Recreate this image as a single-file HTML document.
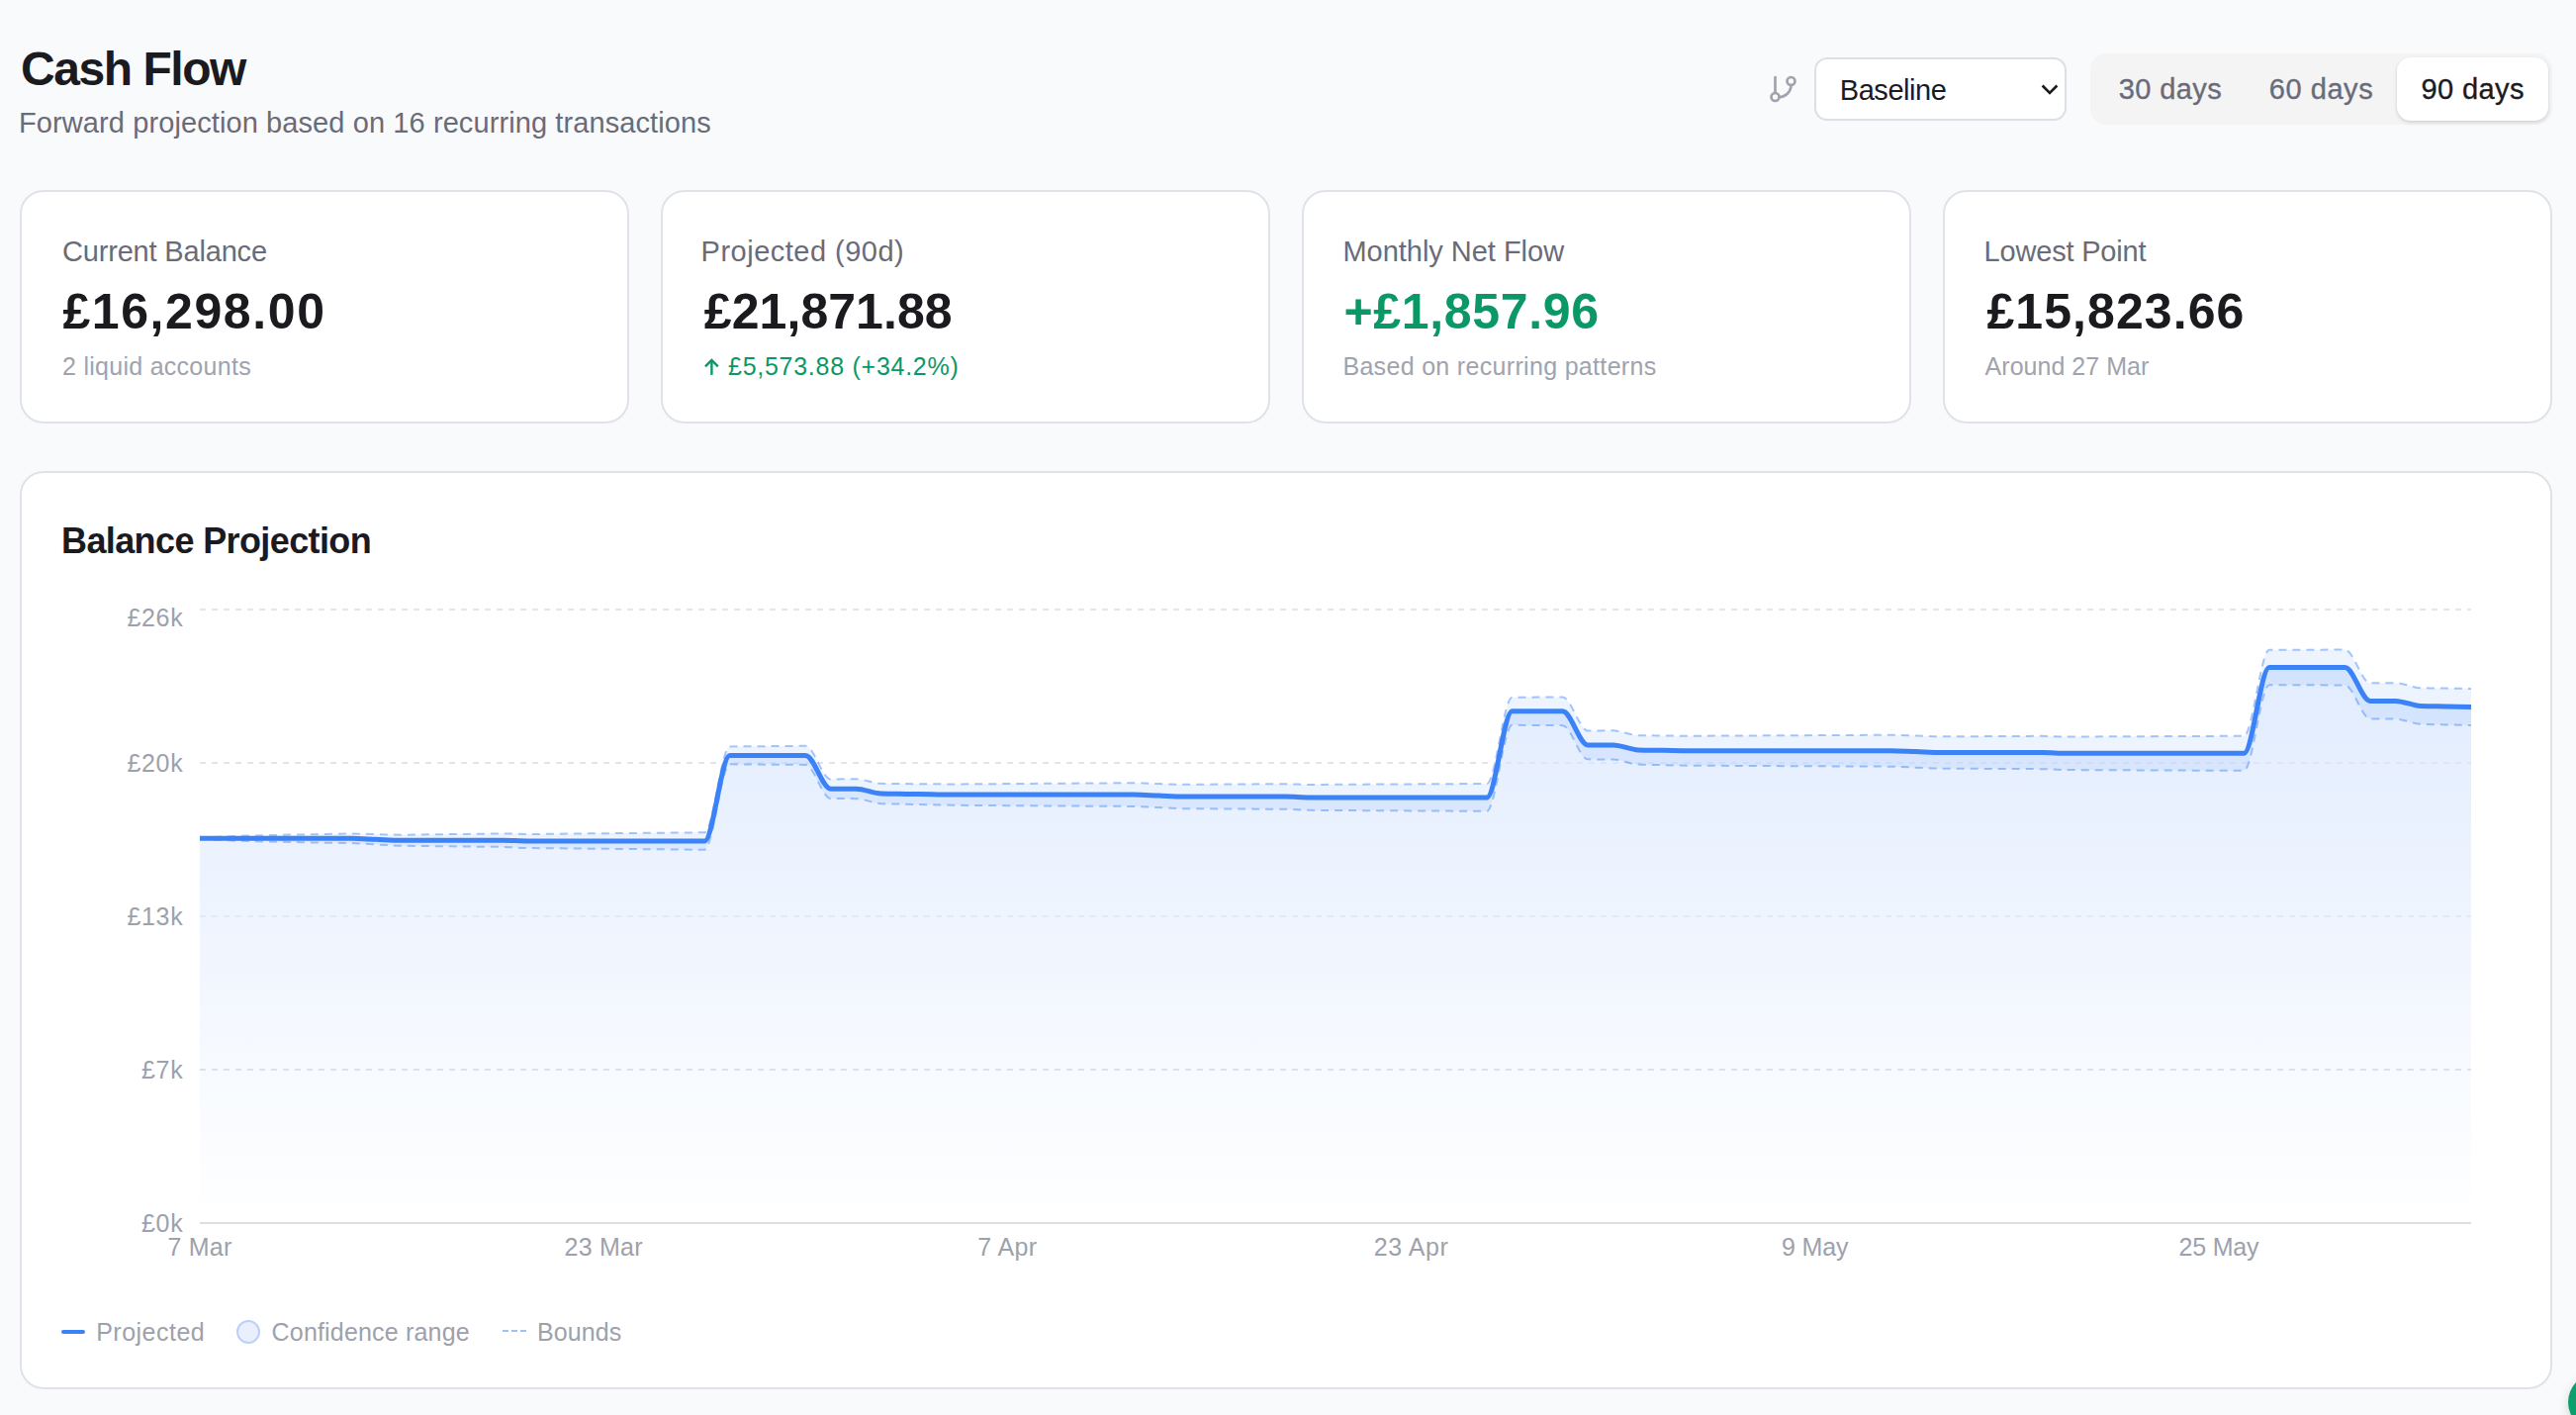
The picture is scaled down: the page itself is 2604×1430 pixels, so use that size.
<!DOCTYPE html>
<html lang="en"><head><meta charset="utf-8"><title>Cash Flow</title>
<style>
*{box-sizing:border-box}
html,body{margin:0;padding:0;background:#f9fafb}
body{width:2604px;height:1430px;overflow:hidden;position:relative;background:#f9fafb;font-family:"Liberation Sans",sans-serif}
.t{position:absolute;white-space:nowrap;line-height:1;font-family:"Liberation Sans",sans-serif}
.card{position:absolute;background:#fff;border:2px solid #e0e2e7;border-radius:24px}
.sel{position:absolute;left:1834px;top:58px;width:255px;height:64px;background:#fff;border:2px solid #dddfe5;border-radius:13px}
.seg{position:absolute;left:2113px;top:54px;width:467px;height:72px;background:#f4f4f5;border-radius:16px}
.pill{position:absolute;left:2423px;top:58px;width:153px;height:64px;background:#fff;border-radius:14px;box-shadow:0 2px 4px rgba(20,20,40,.10),0 1px 3px rgba(20,20,40,.08)}
svg{position:absolute;left:0;top:0;overflow:visible}
.fab{position:absolute;left:2596px;top:1388px;width:58px;height:58px;border-radius:50%;background:#0a9f6c;box-shadow:0 4px 12px rgba(0,0,0,.15)}
</style></head><body>
<div class="card" style="left:20px;top:192px;width:616px;height:236px"></div>
<div class="card" style="left:668px;top:192px;width:616px;height:236px"></div>
<div class="card" style="left:1316px;top:192px;width:616px;height:236px"></div>
<div class="card" style="left:1964px;top:192px;width:616px;height:236px"></div>
<div class="card" style="left:20px;top:476px;width:2560px;height:928px"></div>
<div class="sel"></div>
<div class="seg"></div>
<div class="pill"></div>
<div class="fab"></div>
<svg width="2604" height="1430" viewBox="0 0 2604 1430">
<defs>
<linearGradient id="ga" gradientUnits="userSpaceOnUse" x1="0" y1="674" x2="0" y2="1236">
<stop offset="0" stop-color="#3b82f6" stop-opacity="0.15"/>
<stop offset="1" stop-color="#3b82f6" stop-opacity="0"/>
</linearGradient>
<linearGradient id="gm" gradientUnits="userSpaceOnUse" x1="0" y1="650" x2="0" y2="1236">
<stop offset="0" stop-color="#fff" stop-opacity="0.6"/>
<stop offset="0.55" stop-color="#fff" stop-opacity="0.5"/>
<stop offset="0.72" stop-color="#fff" stop-opacity="0"/>
</linearGradient>
</defs>
<g stroke="#e3e5ea" stroke-width="2" stroke-dasharray="6 6" fill="none"><line x1="202" x2="2498" y1="616" y2="616"/><line x1="202" x2="2498" y1="771" y2="771"/><line x1="202" x2="2498" y1="926" y2="926"/><line x1="202" x2="2498" y1="1081" y2="1081"/></g>
<line x1="202" x2="2498" y1="1236" y2="1236" stroke="#dcdee4" stroke-width="2"/>
<path d="M202,847.3C210.5,846.55,219.01,845.81,227.51,845.35C236.01,844.89,244.52,844.78,253.02,844.54C261.53,844.3,270.03,844.11,278.53,843.92C287.04,843.73,295.54,843.56,304.04,843.4C312.55,843.24,321.05,843.09,329.56,842.94C338.06,842.79,346.56,842.52,355.07,842.52C363.57,842.52,372.07,842.95,380.58,843.14C389.08,843.33,397.59,843.68,406.09,843.68C414.59,843.68,423.1,843.46,431.6,843.35C440.1,843.24,448.61,843.14,457.11,843.03C465.61,842.93,474.12,842.83,482.62,842.73C491.13,842.63,499.63,842.45,508.13,842.45C516.64,842.45,525.14,842.97,533.64,842.97C542.15,842.97,550.65,842.79,559.16,842.7C567.66,842.62,576.16,842.53,584.67,842.45C593.17,842.36,601.67,842.28,610.18,842.2C618.68,842.12,627.19,842.04,635.69,841.96C644.19,841.88,652.7,841.8,661.2,841.73C669.7,841.65,678.21,841.57,686.71,841.5C695.21,841.43,703.72,841.43,712.22,841.28C720.73,841.13,729.23,754.6,737.73,754.46C746.24,754.32,754.74,754.32,763.24,754.25C771.75,754.18,780.25,754.12,788.76,754.05C797.26,753.98,805.76,753.85,814.27,753.85C822.77,753.85,831.27,787.45,839.78,787.45C848.28,787.45,856.79,787.26,865.29,787.26C873.79,787.26,882.3,791.72,890.8,791.87C899.3,792.01,907.81,792.01,916.31,792.08C924.81,792.15,933.32,792.24,941.82,792.3C950.33,792.36,958.83,792.42,967.33,792.42C975.84,792.42,984.34,792.3,992.84,792.24C1001.35,792.18,1009.85,792.13,1018.36,792.07C1026.86,792.01,1035.36,791.95,1043.87,791.9C1052.37,791.84,1060.87,791.79,1069.38,791.73C1077.88,791.67,1086.39,791.62,1094.89,791.56C1103.39,791.51,1111.9,791.45,1120.4,791.4C1128.9,791.35,1137.41,791.24,1145.91,791.24C1154.41,791.24,1162.92,791.82,1171.42,792.08C1179.93,792.34,1188.43,792.82,1196.93,792.82C1205.44,792.82,1213.94,792.72,1222.44,792.67C1230.95,792.62,1239.45,792.56,1247.96,792.51C1256.46,792.46,1264.96,792.41,1273.47,792.36C1281.97,792.31,1290.47,792.21,1298.98,792.21C1307.48,792.21,1315.99,792.97,1324.49,792.97C1332.99,792.97,1341.5,792.87,1350,792.82C1358.5,792.77,1367.01,792.72,1375.51,792.67C1384.01,792.63,1392.52,792.58,1401.02,792.53C1409.53,792.48,1418.03,792.44,1426.53,792.39C1435.04,792.34,1443.54,792.3,1452.04,792.25C1460.55,792.2,1469.05,792.16,1477.56,792.11C1486.06,792.07,1494.56,792.07,1503.07,791.97C1511.57,791.88,1520.07,704.83,1528.58,704.74C1537.08,704.65,1545.59,704.65,1554.09,704.6C1562.59,704.56,1571.1,704.47,1579.6,704.47C1588.1,704.47,1596.61,738.44,1605.11,738.44C1613.61,738.44,1622.12,738.31,1630.62,738.31C1639.13,738.31,1647.63,743,1656.13,743.18C1664.64,743.36,1673.14,743.36,1681.64,743.45C1690.15,743.54,1698.65,743.72,1707.16,743.72C1715.66,743.72,1724.16,743.64,1732.67,743.6C1741.17,743.55,1749.67,743.51,1758.18,743.47C1766.68,743.43,1775.19,743.39,1783.69,743.35C1792.19,743.3,1800.7,743.26,1809.2,743.22C1817.7,743.18,1826.21,743.14,1834.71,743.1C1843.21,743.06,1851.72,743.02,1860.22,742.98C1868.73,742.94,1877.23,742.9,1885.73,742.86C1894.24,742.82,1902.74,742.74,1911.24,742.74C1919.75,742.74,1928.25,743.26,1936.76,743.52C1945.26,743.78,1953.76,744.3,1962.27,744.3C1970.77,744.3,1979.27,744.22,1987.78,744.19C1996.28,744.15,2004.79,744.11,2013.29,744.07C2021.79,744.03,2030.3,743.99,2038.8,743.95C2047.3,743.92,2055.81,743.84,2064.31,743.84C2072.81,743.84,2081.32,744.53,2089.82,744.53C2098.33,744.53,2106.83,744.45,2115.33,744.41C2123.84,744.37,2132.34,744.34,2140.84,744.3C2149.35,744.26,2157.85,744.23,2166.36,744.19C2174.86,744.15,2183.36,744.11,2191.87,744.08C2200.37,744.04,2208.87,744,2217.38,743.97C2225.88,743.93,2234.39,743.9,2242.89,743.86C2251.39,743.82,2259.9,743.82,2268.4,743.75C2276.9,743.68,2285.41,656.91,2293.91,656.84C2302.41,656.77,2310.92,656.77,2319.42,656.73C2327.93,656.7,2336.43,656.66,2344.93,656.63C2353.44,656.59,2361.94,656.52,2370.44,656.52C2378.95,656.52,2387.45,690.32,2395.96,690.32C2404.46,690.32,2412.96,690.21,2421.47,690.21C2429.97,690.21,2438.47,694.94,2446.98,695.21C2455.48,695.47,2463.99,695.47,2472.49,695.6C2480.99,695.74,2489.5,695.87,2498,696L2498,1235L202,1235Z" fill="url(#gm)" stroke="none"/>
<path d="M202,847.3C210.5,846.55,219.01,845.81,227.51,845.35C236.01,844.89,244.52,844.78,253.02,844.54C261.53,844.3,270.03,844.11,278.53,843.92C287.04,843.73,295.54,843.56,304.04,843.4C312.55,843.24,321.05,843.09,329.56,842.94C338.06,842.79,346.56,842.52,355.07,842.52C363.57,842.52,372.07,842.95,380.58,843.14C389.08,843.33,397.59,843.68,406.09,843.68C414.59,843.68,423.1,843.46,431.6,843.35C440.1,843.24,448.61,843.14,457.11,843.03C465.61,842.93,474.12,842.83,482.62,842.73C491.13,842.63,499.63,842.45,508.13,842.45C516.64,842.45,525.14,842.97,533.64,842.97C542.15,842.97,550.65,842.79,559.16,842.7C567.66,842.62,576.16,842.53,584.67,842.45C593.17,842.36,601.67,842.28,610.18,842.2C618.68,842.12,627.19,842.04,635.69,841.96C644.19,841.88,652.7,841.8,661.2,841.73C669.7,841.65,678.21,841.57,686.71,841.5C695.21,841.43,703.72,841.43,712.22,841.28C720.73,841.13,729.23,754.6,737.73,754.46C746.24,754.32,754.74,754.32,763.24,754.25C771.75,754.18,780.25,754.12,788.76,754.05C797.26,753.98,805.76,753.85,814.27,753.85C822.77,753.85,831.27,787.45,839.78,787.45C848.28,787.45,856.79,787.26,865.29,787.26C873.79,787.26,882.3,791.72,890.8,791.87C899.3,792.01,907.81,792.01,916.31,792.08C924.81,792.15,933.32,792.24,941.82,792.3C950.33,792.36,958.83,792.42,967.33,792.42C975.84,792.42,984.34,792.3,992.84,792.24C1001.35,792.18,1009.85,792.13,1018.36,792.07C1026.86,792.01,1035.36,791.95,1043.87,791.9C1052.37,791.84,1060.87,791.79,1069.38,791.73C1077.88,791.67,1086.39,791.62,1094.89,791.56C1103.39,791.51,1111.9,791.45,1120.4,791.4C1128.9,791.35,1137.41,791.24,1145.91,791.24C1154.41,791.24,1162.92,791.82,1171.42,792.08C1179.93,792.34,1188.43,792.82,1196.93,792.82C1205.44,792.82,1213.94,792.72,1222.44,792.67C1230.95,792.62,1239.45,792.56,1247.96,792.51C1256.46,792.46,1264.96,792.41,1273.47,792.36C1281.97,792.31,1290.47,792.21,1298.98,792.21C1307.48,792.21,1315.99,792.97,1324.49,792.97C1332.99,792.97,1341.5,792.87,1350,792.82C1358.5,792.77,1367.01,792.72,1375.51,792.67C1384.01,792.63,1392.52,792.58,1401.02,792.53C1409.53,792.48,1418.03,792.44,1426.53,792.39C1435.04,792.34,1443.54,792.3,1452.04,792.25C1460.55,792.2,1469.05,792.16,1477.56,792.11C1486.06,792.07,1494.56,792.07,1503.07,791.97C1511.57,791.88,1520.07,704.83,1528.58,704.74C1537.08,704.65,1545.59,704.65,1554.09,704.6C1562.59,704.56,1571.1,704.47,1579.6,704.47C1588.1,704.47,1596.61,738.44,1605.11,738.44C1613.61,738.44,1622.12,738.31,1630.62,738.31C1639.13,738.31,1647.63,743,1656.13,743.18C1664.64,743.36,1673.14,743.36,1681.64,743.45C1690.15,743.54,1698.65,743.72,1707.16,743.72C1715.66,743.72,1724.16,743.64,1732.67,743.6C1741.17,743.55,1749.67,743.51,1758.18,743.47C1766.68,743.43,1775.19,743.39,1783.69,743.35C1792.19,743.3,1800.7,743.26,1809.2,743.22C1817.7,743.18,1826.21,743.14,1834.71,743.1C1843.21,743.06,1851.72,743.02,1860.22,742.98C1868.73,742.94,1877.23,742.9,1885.73,742.86C1894.24,742.82,1902.74,742.74,1911.24,742.74C1919.75,742.74,1928.25,743.26,1936.76,743.52C1945.26,743.78,1953.76,744.3,1962.27,744.3C1970.77,744.3,1979.27,744.22,1987.78,744.19C1996.28,744.15,2004.79,744.11,2013.29,744.07C2021.79,744.03,2030.3,743.99,2038.8,743.95C2047.3,743.92,2055.81,743.84,2064.31,743.84C2072.81,743.84,2081.32,744.53,2089.82,744.53C2098.33,744.53,2106.83,744.45,2115.33,744.41C2123.84,744.37,2132.34,744.34,2140.84,744.3C2149.35,744.26,2157.85,744.23,2166.36,744.19C2174.86,744.15,2183.36,744.11,2191.87,744.08C2200.37,744.04,2208.87,744,2217.38,743.97C2225.88,743.93,2234.39,743.9,2242.89,743.86C2251.39,743.82,2259.9,743.82,2268.4,743.75C2276.9,743.68,2285.41,656.91,2293.91,656.84C2302.41,656.77,2310.92,656.77,2319.42,656.73C2327.93,656.7,2336.43,656.66,2344.93,656.63C2353.44,656.59,2361.94,656.52,2370.44,656.52C2378.95,656.52,2387.45,690.32,2395.96,690.32C2404.46,690.32,2412.96,690.21,2421.47,690.21C2429.97,690.21,2438.47,694.94,2446.98,695.21C2455.48,695.47,2463.99,695.47,2472.49,695.6C2480.99,695.74,2489.5,695.87,2498,696L2498,733C2489.5,732.8,2480.99,732.6,2472.49,732.4C2463.99,732.2,2455.48,732.2,2446.98,731.79C2438.47,731.39,2429.97,726.66,2421.47,726.59C2412.96,726.52,2404.46,726.55,2395.96,726.48C2387.45,726.41,2378.95,692.55,2370.44,692.48C2361.94,692.41,2353.44,692.41,2344.93,692.37C2336.43,692.34,2327.93,692.3,2319.42,692.27C2310.92,692.23,2302.41,692.16,2293.91,692.16C2285.41,692.16,2276.9,778.85,2268.4,778.85C2259.9,778.85,2251.39,778.78,2242.89,778.74C2234.39,778.7,2225.88,778.67,2217.38,778.63C2208.87,778.6,2200.37,778.56,2191.87,778.52C2183.36,778.49,2174.86,778.45,2166.36,778.41C2157.85,778.37,2149.35,778.34,2140.84,778.3C2132.34,778.26,2123.84,778.23,2115.33,778.19C2106.83,778.15,2098.33,778.15,2089.82,778.07C2081.32,778,2072.81,777.24,2064.31,777.16C2055.81,777.08,2047.3,777.08,2038.8,777.05C2030.3,777.01,2021.79,776.97,2013.29,776.93C2004.79,776.89,1996.28,776.85,1987.78,776.81C1979.27,776.78,1970.77,776.78,1962.27,776.7C1953.76,776.62,1945.26,776.02,1936.76,775.68C1928.25,775.34,1919.75,774.74,1911.24,774.66C1902.74,774.58,1894.24,774.58,1885.73,774.54C1877.23,774.5,1868.73,774.46,1860.22,774.42C1851.72,774.38,1843.21,774.34,1834.71,774.3C1826.21,774.26,1817.7,774.22,1809.2,774.18C1800.7,774.14,1792.19,774.1,1783.69,774.05C1775.19,774.01,1766.68,773.97,1758.18,773.93C1749.67,773.89,1741.17,773.85,1732.67,773.8C1724.16,773.76,1715.66,773.76,1707.16,773.68C1698.65,773.59,1690.15,773.33,1681.64,773.15C1673.14,772.97,1664.64,772.97,1656.13,772.62C1647.63,772.27,1639.13,767.58,1630.62,767.49C1622.12,767.41,1613.61,767.45,1605.11,767.36C1596.61,767.27,1588.1,733.22,1579.6,733.13C1571.1,733.04,1562.59,733.04,1554.09,733C1545.59,732.95,1537.08,732.86,1528.58,732.86C1520.07,732.86,1511.57,819.83,1503.07,819.83C1494.56,819.83,1486.06,819.73,1477.56,819.69C1469.05,819.64,1460.55,819.6,1452.04,819.55C1443.54,819.5,1435.04,819.46,1426.53,819.41C1418.03,819.36,1409.53,819.32,1401.02,819.27C1392.52,819.22,1384.01,819.17,1375.51,819.13C1367.01,819.08,1358.5,819.03,1350,818.98C1341.5,818.93,1332.99,818.93,1324.49,818.83C1315.99,818.74,1307.48,817.89,1298.98,817.79C1290.47,817.69,1281.97,817.69,1273.47,817.64C1264.96,817.59,1256.46,817.54,1247.96,817.49C1239.45,817.44,1230.95,817.38,1222.44,817.33C1213.94,817.28,1205.44,817.28,1196.93,817.18C1188.43,817.07,1179.93,816.49,1171.42,816.12C1162.92,815.75,1154.41,815.07,1145.91,814.96C1137.41,814.85,1128.9,814.85,1120.4,814.8C1111.9,814.75,1103.39,814.69,1094.89,814.64C1086.39,814.58,1077.88,814.53,1069.38,814.47C1060.87,814.41,1052.37,814.36,1043.87,814.3C1035.36,814.25,1026.86,814.19,1018.36,814.13C1009.85,814.07,1001.35,814.02,992.84,813.96C984.34,813.9,975.84,813.89,967.33,813.78C958.83,813.67,950.33,813.48,941.82,813.3C933.32,813.12,924.81,812.91,916.31,812.72C907.81,812.52,899.3,812.52,890.8,812.13C882.3,811.74,873.79,807.27,865.29,807.14C856.79,807.01,848.28,807.08,839.78,806.95C831.27,806.82,822.77,773.09,814.27,772.95C805.76,772.82,797.26,772.82,788.76,772.75C780.25,772.68,771.75,772.62,763.24,772.55C754.74,772.48,746.24,772.34,737.73,772.34C729.23,772.34,720.73,858.72,712.22,858.72C703.72,858.72,695.21,858.57,686.71,858.5C678.21,858.43,669.7,858.35,661.2,858.27C652.7,858.2,644.19,858.12,635.69,858.04C627.19,857.96,618.68,857.88,610.18,857.8C601.67,857.72,593.17,857.64,584.67,857.55C576.16,857.47,567.66,857.38,559.16,857.3C550.65,857.21,542.15,857.21,533.64,857.03C525.14,856.85,516.64,856.15,508.13,855.95C499.63,855.76,491.13,855.77,482.62,855.67C474.12,855.57,465.61,855.47,457.11,855.37C448.61,855.26,440.1,855.16,431.6,855.05C423.1,854.94,414.59,854.94,406.09,854.72C397.59,854.49,389.08,853.9,380.58,853.46C372.07,853.02,363.57,852.35,355.07,852.08C346.56,851.8,338.06,851.81,329.56,851.66C321.05,851.51,312.55,851.36,304.04,851.2C295.54,851.04,287.04,850.87,278.53,850.68C270.03,850.49,261.53,850.3,253.02,850.06C244.52,849.82,236.01,849.71,227.51,849.25C219.01,848.79,210.5,848.05,202,847.3Z" fill="#3b82f6" fill-opacity="0.09" stroke="none"/>
<path d="M202,847.3C210.5,847.3,219.01,847.3,227.51,847.3C236.01,847.3,244.52,847.3,253.02,847.3C261.53,847.3,270.03,847.3,278.53,847.3C287.04,847.3,295.54,847.3,304.04,847.3C312.55,847.3,321.05,847.3,329.56,847.3C338.06,847.3,346.56,847.3,355.07,847.3C363.57,847.3,372.07,847.98,380.58,848.3C389.08,848.62,397.59,849.2,406.09,849.2C414.59,849.2,423.1,849.2,431.6,849.2C440.1,849.2,448.61,849.2,457.11,849.2C465.61,849.2,474.12,849.2,482.62,849.2C491.13,849.2,499.63,849.2,508.13,849.2C516.64,849.2,525.14,850,533.64,850C542.15,850,550.65,850,559.16,850C567.66,850,576.16,850,584.67,850C593.17,850,601.67,850,610.18,850C618.68,850,627.19,850,635.69,850C644.19,850,652.7,850,661.2,850C669.7,850,678.21,850,686.71,850C695.21,850,703.72,850,712.22,850C720.73,850,729.23,763.4,737.73,763.4C746.24,763.4,754.74,763.4,763.24,763.4C771.75,763.4,780.25,763.4,788.76,763.4C797.26,763.4,805.76,763.4,814.27,763.4C822.77,763.4,831.27,797.2,839.78,797.2C848.28,797.2,856.79,797.2,865.29,797.2C873.79,797.2,882.3,801.73,890.8,802C899.3,802.27,907.81,802.27,916.31,802.4C924.81,802.53,933.32,802.68,941.82,802.8C950.33,802.92,958.83,803.1,967.33,803.1C975.84,803.1,984.34,803.1,992.84,803.1C1001.35,803.1,1009.85,803.1,1018.36,803.1C1026.86,803.1,1035.36,803.1,1043.87,803.1C1052.37,803.1,1060.87,803.1,1069.38,803.1C1077.88,803.1,1086.39,803.1,1094.89,803.1C1103.39,803.1,1111.9,803.1,1120.4,803.1C1128.9,803.1,1137.41,803.1,1145.91,803.1C1154.41,803.1,1162.92,803.78,1171.42,804.1C1179.93,804.42,1188.43,805,1196.93,805C1205.44,805,1213.94,805,1222.44,805C1230.95,805,1239.45,805,1247.96,805C1256.46,805,1264.96,805,1273.47,805C1281.97,805,1290.47,805,1298.98,805C1307.48,805,1315.99,805.9,1324.49,805.9C1332.99,805.9,1341.5,805.9,1350,805.9C1358.5,805.9,1367.01,805.9,1375.51,805.9C1384.01,805.9,1392.52,805.9,1401.02,805.9C1409.53,805.9,1418.03,805.9,1426.53,805.9C1435.04,805.9,1443.54,805.9,1452.04,805.9C1460.55,805.9,1469.05,805.9,1477.56,805.9C1486.06,805.9,1494.56,805.9,1503.07,805.9C1511.57,805.9,1520.07,718.8,1528.58,718.8C1537.08,718.8,1545.59,718.8,1554.09,718.8C1562.59,718.8,1571.1,718.8,1579.6,718.8C1588.1,718.8,1596.61,752.9,1605.11,752.9C1613.61,752.9,1622.12,752.9,1630.62,752.9C1639.13,752.9,1647.63,757.63,1656.13,757.9C1664.64,758.17,1673.14,758.17,1681.64,758.3C1690.15,758.43,1698.65,758.7,1707.16,758.7C1715.66,758.7,1724.16,758.7,1732.67,758.7C1741.17,758.7,1749.67,758.7,1758.18,758.7C1766.68,758.7,1775.19,758.7,1783.69,758.7C1792.19,758.7,1800.7,758.7,1809.2,758.7C1817.7,758.7,1826.21,758.7,1834.71,758.7C1843.21,758.7,1851.72,758.7,1860.22,758.7C1868.73,758.7,1877.23,758.7,1885.73,758.7C1894.24,758.7,1902.74,758.7,1911.24,758.7C1919.75,758.7,1928.25,759.3,1936.76,759.6C1945.26,759.9,1953.76,760.5,1962.27,760.5C1970.77,760.5,1979.27,760.5,1987.78,760.5C1996.28,760.5,2004.79,760.5,2013.29,760.5C2021.79,760.5,2030.3,760.5,2038.8,760.5C2047.3,760.5,2055.81,760.5,2064.31,760.5C2072.81,760.5,2081.32,761.3,2089.82,761.3C2098.33,761.3,2106.83,761.3,2115.33,761.3C2123.84,761.3,2132.34,761.3,2140.84,761.3C2149.35,761.3,2157.85,761.3,2166.36,761.3C2174.86,761.3,2183.36,761.3,2191.87,761.3C2200.37,761.3,2208.87,761.3,2217.38,761.3C2225.88,761.3,2234.39,761.3,2242.89,761.3C2251.39,761.3,2259.9,761.3,2268.4,761.3C2276.9,761.3,2285.41,674.5,2293.91,674.5C2302.41,674.5,2310.92,674.5,2319.42,674.5C2327.93,674.5,2336.43,674.5,2344.93,674.5C2353.44,674.5,2361.94,674.5,2370.44,674.5C2378.95,674.5,2387.45,708.4,2395.96,708.4C2404.46,708.4,2412.96,708.4,2421.47,708.4C2429.97,708.4,2438.47,713.17,2446.98,713.5C2455.48,713.83,2463.99,713.83,2472.49,714C2480.99,714.17,2489.5,714.33,2498,714.5L2498,1236L202,1236Z" fill="url(#ga)" stroke="none"/>
<path d="M202,847.3C210.5,846.55,219.01,845.81,227.51,845.35C236.01,844.89,244.52,844.78,253.02,844.54C261.53,844.3,270.03,844.11,278.53,843.92C287.04,843.73,295.54,843.56,304.04,843.4C312.55,843.24,321.05,843.09,329.56,842.94C338.06,842.79,346.56,842.52,355.07,842.52C363.57,842.52,372.07,842.95,380.58,843.14C389.08,843.33,397.59,843.68,406.09,843.68C414.59,843.68,423.1,843.46,431.6,843.35C440.1,843.24,448.61,843.14,457.11,843.03C465.61,842.93,474.12,842.83,482.62,842.73C491.13,842.63,499.63,842.45,508.13,842.45C516.64,842.45,525.14,842.97,533.64,842.97C542.15,842.97,550.65,842.79,559.16,842.7C567.66,842.62,576.16,842.53,584.67,842.45C593.17,842.36,601.67,842.28,610.18,842.2C618.68,842.12,627.19,842.04,635.69,841.96C644.19,841.88,652.7,841.8,661.2,841.73C669.7,841.65,678.21,841.57,686.71,841.5C695.21,841.43,703.72,841.43,712.22,841.28C720.73,841.13,729.23,754.6,737.73,754.46C746.24,754.32,754.74,754.32,763.24,754.25C771.75,754.18,780.25,754.12,788.76,754.05C797.26,753.98,805.76,753.85,814.27,753.85C822.77,753.85,831.27,787.45,839.78,787.45C848.28,787.45,856.79,787.26,865.29,787.26C873.79,787.26,882.3,791.72,890.8,791.87C899.3,792.01,907.81,792.01,916.31,792.08C924.81,792.15,933.32,792.24,941.82,792.3C950.33,792.36,958.83,792.42,967.33,792.42C975.84,792.42,984.34,792.3,992.84,792.24C1001.35,792.18,1009.85,792.13,1018.36,792.07C1026.86,792.01,1035.36,791.95,1043.87,791.9C1052.37,791.84,1060.87,791.79,1069.38,791.73C1077.88,791.67,1086.39,791.62,1094.89,791.56C1103.39,791.51,1111.9,791.45,1120.4,791.4C1128.9,791.35,1137.41,791.24,1145.91,791.24C1154.41,791.24,1162.92,791.82,1171.42,792.08C1179.93,792.34,1188.43,792.82,1196.93,792.82C1205.44,792.82,1213.94,792.72,1222.44,792.67C1230.95,792.62,1239.45,792.56,1247.96,792.51C1256.46,792.46,1264.96,792.41,1273.47,792.36C1281.97,792.31,1290.47,792.21,1298.98,792.21C1307.48,792.21,1315.99,792.97,1324.49,792.97C1332.99,792.97,1341.5,792.87,1350,792.82C1358.5,792.77,1367.01,792.72,1375.51,792.67C1384.01,792.63,1392.52,792.58,1401.02,792.53C1409.53,792.48,1418.03,792.44,1426.53,792.39C1435.04,792.34,1443.54,792.3,1452.04,792.25C1460.55,792.2,1469.05,792.16,1477.56,792.11C1486.06,792.07,1494.56,792.07,1503.07,791.97C1511.57,791.88,1520.07,704.83,1528.58,704.74C1537.08,704.65,1545.59,704.65,1554.09,704.6C1562.59,704.56,1571.1,704.47,1579.6,704.47C1588.1,704.47,1596.61,738.44,1605.11,738.44C1613.61,738.44,1622.12,738.31,1630.62,738.31C1639.13,738.31,1647.63,743,1656.13,743.18C1664.64,743.36,1673.14,743.36,1681.64,743.45C1690.15,743.54,1698.65,743.72,1707.16,743.72C1715.66,743.72,1724.16,743.64,1732.67,743.6C1741.17,743.55,1749.67,743.51,1758.18,743.47C1766.68,743.43,1775.19,743.39,1783.69,743.35C1792.19,743.3,1800.7,743.26,1809.2,743.22C1817.7,743.18,1826.21,743.14,1834.71,743.1C1843.21,743.06,1851.72,743.02,1860.22,742.98C1868.73,742.94,1877.23,742.9,1885.73,742.86C1894.24,742.82,1902.74,742.74,1911.24,742.74C1919.75,742.74,1928.25,743.26,1936.76,743.52C1945.26,743.78,1953.76,744.3,1962.27,744.3C1970.77,744.3,1979.27,744.22,1987.78,744.19C1996.28,744.15,2004.79,744.11,2013.29,744.07C2021.79,744.03,2030.3,743.99,2038.8,743.95C2047.3,743.92,2055.81,743.84,2064.31,743.84C2072.81,743.84,2081.32,744.53,2089.82,744.53C2098.33,744.53,2106.83,744.45,2115.33,744.41C2123.84,744.37,2132.34,744.34,2140.84,744.3C2149.35,744.26,2157.85,744.23,2166.36,744.19C2174.86,744.15,2183.36,744.11,2191.87,744.08C2200.37,744.04,2208.87,744,2217.38,743.97C2225.88,743.93,2234.39,743.9,2242.89,743.86C2251.39,743.82,2259.9,743.82,2268.4,743.75C2276.9,743.68,2285.41,656.91,2293.91,656.84C2302.41,656.77,2310.92,656.77,2319.42,656.73C2327.93,656.7,2336.43,656.66,2344.93,656.63C2353.44,656.59,2361.94,656.52,2370.44,656.52C2378.95,656.52,2387.45,690.32,2395.96,690.32C2404.46,690.32,2412.96,690.21,2421.47,690.21C2429.97,690.21,2438.47,694.94,2446.98,695.21C2455.48,695.47,2463.99,695.47,2472.49,695.6C2480.99,695.74,2489.5,695.87,2498,696" fill="none" stroke="#3b82f6" stroke-opacity="0.45" stroke-width="2" stroke-dasharray="8 6"/>
<path d="M202,847.3C210.5,848.05,219.01,848.79,227.51,849.25C236.01,849.71,244.52,849.82,253.02,850.06C261.53,850.3,270.03,850.49,278.53,850.68C287.04,850.87,295.54,851.04,304.04,851.2C312.55,851.36,321.05,851.51,329.56,851.66C338.06,851.81,346.56,851.8,355.07,852.08C363.57,852.35,372.07,853.02,380.58,853.46C389.08,853.9,397.59,854.49,406.09,854.72C414.59,854.94,423.1,854.94,431.6,855.05C440.1,855.16,448.61,855.26,457.11,855.37C465.61,855.47,474.12,855.57,482.62,855.67C491.13,855.77,499.63,855.76,508.13,855.95C516.64,856.15,525.14,856.85,533.64,857.03C542.15,857.21,550.65,857.21,559.16,857.3C567.66,857.38,576.16,857.47,584.67,857.55C593.17,857.64,601.67,857.72,610.18,857.8C618.68,857.88,627.19,857.96,635.69,858.04C644.19,858.12,652.7,858.2,661.2,858.27C669.7,858.35,678.21,858.43,686.71,858.5C695.21,858.57,703.72,858.72,712.22,858.72C720.73,858.72,729.23,772.34,737.73,772.34C746.24,772.34,754.74,772.48,763.24,772.55C771.75,772.62,780.25,772.68,788.76,772.75C797.26,772.82,805.76,772.82,814.27,772.95C822.77,773.09,831.27,806.82,839.78,806.95C848.28,807.08,856.79,807.01,865.29,807.14C873.79,807.27,882.3,811.74,890.8,812.13C899.3,812.52,907.81,812.52,916.31,812.72C924.81,812.91,933.32,813.12,941.82,813.3C950.33,813.48,958.83,813.67,967.33,813.78C975.84,813.89,984.34,813.9,992.84,813.96C1001.35,814.02,1009.85,814.07,1018.36,814.13C1026.86,814.19,1035.36,814.25,1043.87,814.3C1052.37,814.36,1060.87,814.41,1069.38,814.47C1077.88,814.53,1086.39,814.58,1094.89,814.64C1103.39,814.69,1111.9,814.75,1120.4,814.8C1128.9,814.85,1137.41,814.85,1145.91,814.96C1154.41,815.07,1162.92,815.75,1171.42,816.12C1179.93,816.49,1188.43,817.07,1196.93,817.18C1205.44,817.28,1213.94,817.28,1222.44,817.33C1230.95,817.38,1239.45,817.44,1247.96,817.49C1256.46,817.54,1264.96,817.59,1273.47,817.64C1281.97,817.69,1290.47,817.69,1298.98,817.79C1307.48,817.89,1315.99,818.74,1324.49,818.83C1332.99,818.93,1341.5,818.93,1350,818.98C1358.5,819.03,1367.01,819.08,1375.51,819.13C1384.01,819.17,1392.52,819.22,1401.02,819.27C1409.53,819.32,1418.03,819.36,1426.53,819.41C1435.04,819.46,1443.54,819.5,1452.04,819.55C1460.55,819.6,1469.05,819.64,1477.56,819.69C1486.06,819.73,1494.56,819.83,1503.07,819.83C1511.57,819.83,1520.07,732.86,1528.58,732.86C1537.08,732.86,1545.59,732.95,1554.09,733C1562.59,733.04,1571.1,733.04,1579.6,733.13C1588.1,733.22,1596.61,767.27,1605.11,767.36C1613.61,767.45,1622.12,767.41,1630.62,767.49C1639.13,767.58,1647.63,772.27,1656.13,772.62C1664.64,772.97,1673.14,772.97,1681.64,773.15C1690.15,773.33,1698.65,773.59,1707.16,773.68C1715.66,773.76,1724.16,773.76,1732.67,773.8C1741.17,773.85,1749.67,773.89,1758.18,773.93C1766.68,773.97,1775.19,774.01,1783.69,774.05C1792.19,774.1,1800.7,774.14,1809.2,774.18C1817.7,774.22,1826.21,774.26,1834.71,774.3C1843.21,774.34,1851.72,774.38,1860.22,774.42C1868.73,774.46,1877.23,774.5,1885.73,774.54C1894.24,774.58,1902.74,774.58,1911.24,774.66C1919.75,774.74,1928.25,775.34,1936.76,775.68C1945.26,776.02,1953.76,776.62,1962.27,776.7C1970.77,776.78,1979.27,776.78,1987.78,776.81C1996.28,776.85,2004.79,776.89,2013.29,776.93C2021.79,776.97,2030.3,777.01,2038.8,777.05C2047.3,777.08,2055.81,777.08,2064.31,777.16C2072.81,777.24,2081.32,778,2089.82,778.07C2098.33,778.15,2106.83,778.15,2115.33,778.19C2123.84,778.23,2132.34,778.26,2140.84,778.3C2149.35,778.34,2157.85,778.37,2166.36,778.41C2174.86,778.45,2183.36,778.49,2191.87,778.52C2200.37,778.56,2208.87,778.6,2217.38,778.63C2225.88,778.67,2234.39,778.7,2242.89,778.74C2251.39,778.78,2259.9,778.85,2268.4,778.85C2276.9,778.85,2285.41,692.16,2293.91,692.16C2302.41,692.16,2310.92,692.23,2319.42,692.27C2327.93,692.3,2336.43,692.34,2344.93,692.37C2353.44,692.41,2361.94,692.41,2370.44,692.48C2378.95,692.55,2387.45,726.41,2395.96,726.48C2404.46,726.55,2412.96,726.52,2421.47,726.59C2429.97,726.66,2438.47,731.39,2446.98,731.79C2455.48,732.2,2463.99,732.2,2472.49,732.4C2480.99,732.6,2489.5,732.8,2498,733" fill="none" stroke="#3b82f6" stroke-opacity="0.45" stroke-width="2" stroke-dasharray="8 6"/>
<path d="M202,847.3C210.5,847.3,219.01,847.3,227.51,847.3C236.01,847.3,244.52,847.3,253.02,847.3C261.53,847.3,270.03,847.3,278.53,847.3C287.04,847.3,295.54,847.3,304.04,847.3C312.55,847.3,321.05,847.3,329.56,847.3C338.06,847.3,346.56,847.3,355.07,847.3C363.57,847.3,372.07,847.98,380.58,848.3C389.08,848.62,397.59,849.2,406.09,849.2C414.59,849.2,423.1,849.2,431.6,849.2C440.1,849.2,448.61,849.2,457.11,849.2C465.61,849.2,474.12,849.2,482.62,849.2C491.13,849.2,499.63,849.2,508.13,849.2C516.64,849.2,525.14,850,533.64,850C542.15,850,550.65,850,559.16,850C567.66,850,576.16,850,584.67,850C593.17,850,601.67,850,610.18,850C618.68,850,627.19,850,635.69,850C644.19,850,652.7,850,661.2,850C669.7,850,678.21,850,686.71,850C695.21,850,703.72,850,712.22,850C720.73,850,729.23,763.4,737.73,763.4C746.24,763.4,754.74,763.4,763.24,763.4C771.75,763.4,780.25,763.4,788.76,763.4C797.26,763.4,805.76,763.4,814.27,763.4C822.77,763.4,831.27,797.2,839.78,797.2C848.28,797.2,856.79,797.2,865.29,797.2C873.79,797.2,882.3,801.73,890.8,802C899.3,802.27,907.81,802.27,916.31,802.4C924.81,802.53,933.32,802.68,941.82,802.8C950.33,802.92,958.83,803.1,967.33,803.1C975.84,803.1,984.34,803.1,992.84,803.1C1001.35,803.1,1009.85,803.1,1018.36,803.1C1026.86,803.1,1035.36,803.1,1043.87,803.1C1052.37,803.1,1060.87,803.1,1069.38,803.1C1077.88,803.1,1086.39,803.1,1094.89,803.1C1103.39,803.1,1111.9,803.1,1120.4,803.1C1128.9,803.1,1137.41,803.1,1145.91,803.1C1154.41,803.1,1162.92,803.78,1171.42,804.1C1179.93,804.42,1188.43,805,1196.93,805C1205.44,805,1213.94,805,1222.44,805C1230.95,805,1239.45,805,1247.96,805C1256.46,805,1264.96,805,1273.47,805C1281.97,805,1290.47,805,1298.98,805C1307.48,805,1315.99,805.9,1324.49,805.9C1332.99,805.9,1341.5,805.9,1350,805.9C1358.5,805.9,1367.01,805.9,1375.51,805.9C1384.01,805.9,1392.52,805.9,1401.02,805.9C1409.53,805.9,1418.03,805.9,1426.53,805.9C1435.04,805.9,1443.54,805.9,1452.04,805.9C1460.55,805.9,1469.05,805.9,1477.56,805.9C1486.06,805.9,1494.56,805.9,1503.07,805.9C1511.57,805.9,1520.07,718.8,1528.58,718.8C1537.08,718.8,1545.59,718.8,1554.09,718.8C1562.59,718.8,1571.1,718.8,1579.6,718.8C1588.1,718.8,1596.61,752.9,1605.11,752.9C1613.61,752.9,1622.12,752.9,1630.62,752.9C1639.13,752.9,1647.63,757.63,1656.13,757.9C1664.64,758.17,1673.14,758.17,1681.64,758.3C1690.15,758.43,1698.65,758.7,1707.16,758.7C1715.66,758.7,1724.16,758.7,1732.67,758.7C1741.17,758.7,1749.67,758.7,1758.18,758.7C1766.68,758.7,1775.19,758.7,1783.69,758.7C1792.19,758.7,1800.7,758.7,1809.2,758.7C1817.7,758.7,1826.21,758.7,1834.71,758.7C1843.21,758.7,1851.72,758.7,1860.22,758.7C1868.73,758.7,1877.23,758.7,1885.73,758.7C1894.24,758.7,1902.74,758.7,1911.24,758.7C1919.75,758.7,1928.25,759.3,1936.76,759.6C1945.26,759.9,1953.76,760.5,1962.27,760.5C1970.77,760.5,1979.27,760.5,1987.78,760.5C1996.28,760.5,2004.79,760.5,2013.29,760.5C2021.79,760.5,2030.3,760.5,2038.8,760.5C2047.3,760.5,2055.81,760.5,2064.31,760.5C2072.81,760.5,2081.32,761.3,2089.82,761.3C2098.33,761.3,2106.83,761.3,2115.33,761.3C2123.84,761.3,2132.34,761.3,2140.84,761.3C2149.35,761.3,2157.85,761.3,2166.36,761.3C2174.86,761.3,2183.36,761.3,2191.87,761.3C2200.37,761.3,2208.87,761.3,2217.38,761.3C2225.88,761.3,2234.39,761.3,2242.89,761.3C2251.39,761.3,2259.9,761.3,2268.4,761.3C2276.9,761.3,2285.41,674.5,2293.91,674.5C2302.41,674.5,2310.92,674.5,2319.42,674.5C2327.93,674.5,2336.43,674.5,2344.93,674.5C2353.44,674.5,2361.94,674.5,2370.44,674.5C2378.95,674.5,2387.45,708.4,2395.96,708.4C2404.46,708.4,2412.96,708.4,2421.47,708.4C2429.97,708.4,2438.47,713.17,2446.98,713.5C2455.48,713.83,2463.99,713.83,2472.49,714C2480.99,714.17,2489.5,714.33,2498,714.5" fill="none" stroke="#3b82f6" stroke-width="5" stroke-linejoin="round" stroke-linecap="butt"/>
<!-- git-branch icon -->
<g transform="translate(1786.5,74) scale(1.3333)" fill="none" stroke="#a0a3ad" stroke-width="2" stroke-linecap="round" stroke-linejoin="round">
<line x1="6" y1="3" x2="6" y2="15"/><circle cx="18" cy="6" r="3"/><circle cx="6" cy="18" r="3"/><path d="M18 9a9 9 0 0 1-9 9"/>
</g>
<!-- select chevron -->
<path d="M2064.6 86.5 L2072 94 L2079.4 86.5" fill="none" stroke="#1b1b1f" stroke-width="2.6" stroke-linecap="butt" stroke-linejoin="miter"/>
<!-- up arrow card 2 -->
<g fill="none" stroke="#0a9866" stroke-width="2.4" stroke-linecap="butt" stroke-linejoin="miter">
<path d="M719.4 378.9 V364.2"/><path d="M713 370.4 L719.4 364 L725.8 370.4"/>
</g>
<!-- legend swatches -->
<line x1="64" x2="84" y1="1346" y2="1346" stroke="#3b82f6" stroke-width="4" stroke-linecap="round"/>
<circle cx="251" cy="1346" r="11" fill="#e9effd" stroke="#bcd0fa" stroke-width="2"/>
<line x1="508" x2="532" y1="1345" y2="1345" stroke="#9dc0fa" stroke-width="2" stroke-dasharray="6 3"/>
</svg>
<div id="t1" class="t" style="left:21.00px;top:45.67px;font-size:48px;font-weight:700;color:#1b1b1f;letter-spacing:-1.45px;">Cash Flow</div>
<div id="t2" class="t" style="left:19.00px;top:110.25px;font-size:29px;font-weight:400;color:#6a6b78;letter-spacing:0.096px;">Forward projection based on 16 recurring transactions</div>
<div id="c1l" class="t" style="left:63.00px;top:240.25px;font-size:29px;font-weight:400;color:#6a6b78;letter-spacing:-0.179px;">Current Balance</div>
<div id="c1v" class="t" style="left:63.40px;top:289.68px;font-size:50px;font-weight:700;color:#1b1b1f;letter-spacing:1.589px;">£16,298.00</div>
<div id="c1s" class="t" style="left:63.00px;top:357.74px;font-size:25px;font-weight:400;color:#a0a3ad;letter-spacing:0.275px;">2 liquid accounts</div>
<div id="c2l" class="t" style="left:708.60px;top:240.25px;font-size:29px;font-weight:400;color:#6a6b78;letter-spacing:0.492px;">Projected (90d)</div>
<div id="c2v" class="t" style="left:711.80px;top:289.68px;font-size:50px;font-weight:700;color:#1b1b1f;letter-spacing:0.066px;">£21,871.88</div>
<div id="c2s" class="t" style="left:736.00px;top:357.74px;font-size:25px;font-weight:400;color:#0a9866;letter-spacing:0.735px;">£5,573.88 (+34.2%)</div>
<div id="c3l" class="t" style="left:1357.40px;top:240.25px;font-size:29px;font-weight:400;color:#6a6b78;letter-spacing:-0.021px;">Monthly Net Flow</div>
<div id="c3v" class="t" style="left:1358.40px;top:289.68px;font-size:50px;font-weight:700;color:#0a9866;letter-spacing:0.678px;">+£1,857.96</div>
<div id="c3s" class="t" style="left:1357.40px;top:357.74px;font-size:25px;font-weight:400;color:#a0a3ad;letter-spacing:0.32px;">Based on recurring patterns</div>
<div id="c4l" class="t" style="left:2005.60px;top:240.25px;font-size:29px;font-weight:400;color:#6a6b78;letter-spacing:-0.199px;">Lowest Point</div>
<div id="c4v" class="t" style="left:2008.40px;top:289.68px;font-size:50px;font-weight:700;color:#1b1b1f;letter-spacing:1.078px;">£15,823.66</div>
<div id="c4s" class="t" style="left:2006.60px;top:357.74px;font-size:25px;font-weight:400;color:#a0a3ad;letter-spacing:0.024px;">Around 27 Mar</div>
<div id="ct" class="t" style="left:62.00px;top:528.83px;font-size:36px;font-weight:700;color:#1b1b1f;letter-spacing:-0.611px;">Balance Projection</div>
<div id="sel" class="t" style="left:1859.80px;top:77.35px;font-size:29px;font-weight:400;color:#1b1b1f;letter-spacing:-0.457px;">Baseline</div>
<div id="s30" class="t" style="-webkit-text-stroke:0.35px currentColor;left:2141.80px;top:75.75px;font-size:29px;font-weight:400;color:#6a6b78;letter-spacing:0.383px;">30 days</div>
<div id="s60" class="t" style="-webkit-text-stroke:0.35px currentColor;left:2293.80px;top:75.75px;font-size:29px;font-weight:400;color:#6a6b78;letter-spacing:0.551px;">60 days</div>
<div id="s90" class="t" style="-webkit-text-stroke:0.35px currentColor;left:2447.60px;top:75.75px;font-size:29px;font-weight:400;color:#1b1b1f;letter-spacing:0.384px;">90 days</div>
<div id="y26" class="t" style="left:185.30px;top:611.84px;font-size:25px;font-weight:400;color:#9da1ac;letter-spacing:0.634px;transform:translateX(-100%);">£26k</div>
<div id="y20" class="t" style="left:185.30px;top:758.84px;font-size:25px;font-weight:400;color:#9da1ac;letter-spacing:0.634px;transform:translateX(-100%);">£20k</div>
<div id="y13" class="t" style="left:185.30px;top:913.84px;font-size:25px;font-weight:400;color:#9da1ac;letter-spacing:0.634px;transform:translateX(-100%);">£13k</div>
<div id="y7" class="t" style="left:185.30px;top:1068.84px;font-size:25px;font-weight:400;color:#9da1ac;letter-spacing:0.634px;transform:translateX(-100%);">£7k</div>
<div id="y0" class="t" style="left:185.30px;top:1224.04px;font-size:25px;font-weight:400;color:#9da1ac;letter-spacing:0.634px;transform:translateX(-100%);">£0k</div>
<div id="x0" class="t" style="left:202.00px;top:1247.74px;font-size:25px;font-weight:400;color:#9da1ac;letter-spacing:0.25px;transform:translateX(-50%);">7 Mar</div>
<div id="x1" class="t" style="left:610.20px;top:1247.74px;font-size:25px;font-weight:400;color:#9da1ac;letter-spacing:0.24px;transform:translateX(-50%);">23 Mar</div>
<div id="x2" class="t" style="left:1018.40px;top:1247.74px;font-size:25px;font-weight:400;color:#9da1ac;letter-spacing:0.35px;transform:translateX(-50%);">7 Apr</div>
<div id="x3" class="t" style="left:1426.50px;top:1247.74px;font-size:25px;font-weight:400;color:#9da1ac;letter-spacing:0.56px;transform:translateX(-50%);">23 Apr</div>
<div id="x4" class="t" style="left:1834.70px;top:1247.74px;font-size:25px;font-weight:400;color:#9da1ac;letter-spacing:-0.1px;transform:translateX(-50%);">9 May</div>
<div id="x5" class="t" style="left:2242.90px;top:1247.74px;font-size:25px;font-weight:400;color:#9da1ac;letter-spacing:-0.24px;transform:translateX(-50%);">25 May</div>
<div id="l1" class="t" style="left:97.20px;top:1334.34px;font-size:25px;font-weight:400;color:#9da1ac;letter-spacing:0.486px;">Projected</div>
<div id="l2" class="t" style="left:274.60px;top:1334.34px;font-size:25px;font-weight:400;color:#9da1ac;letter-spacing:0.18px;">Confidence range</div>
<div id="l3" class="t" style="left:543.00px;top:1334.34px;font-size:25px;font-weight:400;color:#9da1ac;letter-spacing:0.1px;">Bounds</div>
</body></html>
